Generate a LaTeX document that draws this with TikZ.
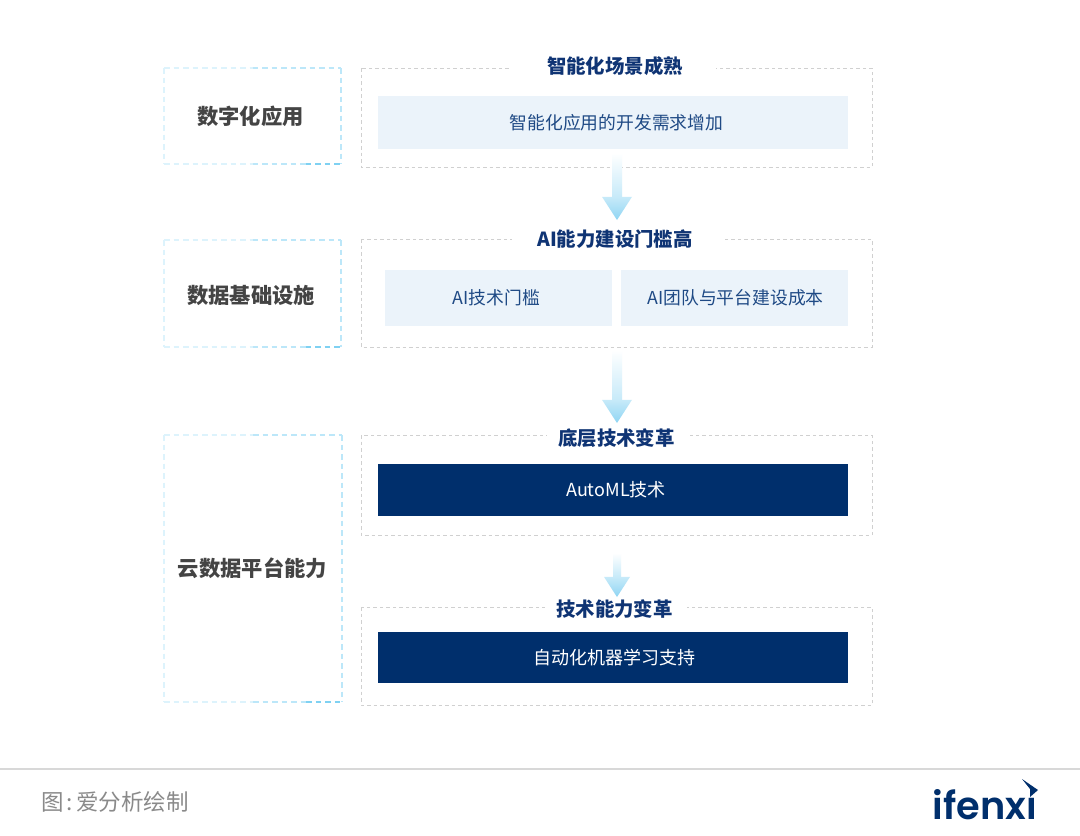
\documentclass[tikz,border=0pt]{standalone}
\usepackage{fontspec}
\setmainfont{Noto Sans CJK SC}
\newfontfamily\logofont{Poppins SemiBold}
\usetikzlibrary{calc}
\definecolor{navy}{HTML}{002F6C}
\definecolor{titlec}{HTML}{0F3474}
\definecolor{bodyc}{HTML}{1F4A85}
\definecolor{pale}{HTML}{EBF3FA}
\definecolor{greyline}{HTML}{D8D8D8}
\definecolor{dashgrey}{HTML}{D0D0D0}
\definecolor{labelc}{HTML}{444444}
\definecolor{footc}{HTML}{8A8A8A}
\definecolor{cyanA}{HTML}{DDF3FC}
\definecolor{cyanB}{HTML}{BCE7F9}
\definecolor{cyanC}{HTML}{7FD1F2}
\definecolor{arrowA}{HTML}{C7EAF9}
\definecolor{arrowB}{HTML}{8FD5F3}
\tikzset{
  x=1pt,y=-1pt,
  grpbox/.style={draw=dashgrey,line width=1pt,dash pattern=on 3.5pt off 3pt},
  cyandash/.style={line width=1.05pt,dash pattern=on 5.5pt off 4pt},
  inner pale/.style={fill=pale,draw=none,inner sep=0pt,text=bodyc,font=\fontsize{17.8}{20}\selectfont},
  inner navy/.style={fill=navy,draw=none,inner sep=0pt,text=white,font=\fontsize{18}{20}\selectfont},
  grptitle/.style={inner sep=0pt,text=titlec,font=\fontsize{19.4}{20}\selectfont\bfseries},
  sidelabel/.style={text=labelc,inner sep=0pt,font=\fontsize{21.3}{22}\selectfont\bfseries},
}
\newcommand{\sidebox}[5]{% name x1 y1 x2 y2
  \coordinate (#1-nw) at (#2,#3);
  \coordinate (#1-se) at (#4,#5);
  \draw[cyandash,draw=cyanA] (#1-nw) -- (#1-nw |- #1-se);
  \draw[cyandash,draw=cyanA] (#1-nw) -- ($(#1-nw)!0.5!(#1-se |- #1-nw)$);
  \draw[cyandash,draw=cyanB] ($(#1-nw)!0.5!(#1-se |- #1-nw)$) -- (#1-se |- #1-nw);
  \draw[cyandash,draw=cyanB] (#1-se |- #1-nw) -- (#1-se);
  \draw[cyandash,draw=cyanA] (#1-nw |- #1-se) -- ($(#1-nw |- #1-se)!0.5!(#1-se)$);
  \draw[cyandash,draw=cyanB] ($(#1-nw |- #1-se)!0.5!(#1-se)$) -- ($(#1-nw |- #1-se)!0.8!(#1-se)$);
  \draw[cyandash,draw=cyanC] ($(#1-nw |- #1-se)!0.8!(#1-se)$) -- (#1-se);
}
\newcommand{\gradarrow}[4]{% start end halfshaft halfhead; head length = 1.55*halfhead
  \shade[top color=white,bottom color=arrowA]
    ($(#1)+(-#3,0)$) rectangle ($(#2)+(#3,-1.55*#4)$);
  \shade[top color=arrowA,bottom color=arrowB]
    ($(#2)+(-#4,-1.55*#4)$) -- ($(#2)+(#4,-1.55*#4)$) -- (#2) -- cycle;
}
\begin{document}
\begin{tikzpicture}
\useasboundingbox (0,0) rectangle (1080,836);
\fill[white] (0,0) rectangle (1080,836);

% side boxes
\sidebox{s1}{164}{68}{341}{164}
\sidebox{s2}{164}{240}{341}{347}
\sidebox{s3}{164}{435}{342}{702}
\node[sidelabel] (l1) at (250.5,116) {数字化应用};
\node[sidelabel] (l2) at (251,295) {数据基础设施};
\node[sidelabel] (l3) at (252.5,568) {云数据平台能力};

% group boxes
\draw[grpbox] (361,68) rectangle (872,167);
\draw[grpbox] (361,239) rectangle (872,347);
\draw[grpbox] (361,435) rectangle (872,535);
\draw[grpbox] (361,607) rectangle (872,705);

% arrows
\coordinate (a1s) at (617,153); \coordinate (a1e) at (617,220);
\coordinate (a2s) at (617,350); \coordinate (a2e) at (617,423);
\coordinate (a3s) at (617,553); \coordinate (a3e) at (617,597);
\gradarrow{a1s}{a1e}{5}{15}
\gradarrow{a2s}{a2e}{5}{15}
\gradarrow{a3s}{a3e}{4}{13}

% gaps in the dashed frames behind the titles
\fill[white] (512,60) rectangle (716,76);
\fill[white] (512,231) rectangle (722,247);
\fill[white] (547,427) rectangle (690,443);
\fill[white] (545,599) rectangle (687,615);

% group titles
\node[grptitle] (t1) at (615,66) {智能化场景成熟};
\node[grptitle] (t2) at (615,239) {AI能力建设门槛高};
\node[grptitle] (t3) at (616.5,438.5) {底层技术变革};
\node[grptitle] (t4) at (614.5,609) {技术能力变革};

% inner boxes
\node[inner pale,minimum width=470pt,minimum height=53pt] (b1) at (613,122.5) {\hspace{7pt}智能化应用的开发需求增加};
\node[inner pale,minimum width=227pt,minimum height=56pt] (b2) at (498.5,298) {\hspace{-4pt}AI技术门槛};
\node[inner pale,minimum width=227pt,minimum height=56pt] (b3) at (734.5,298) {\hspace{2pt}AI团队与平台建设成本};
\node[inner navy,minimum width=470pt,minimum height=52pt] (b4) at (613,490) {\hspace{6pt}AutoML技术};
\node[inner navy,minimum width=470pt,minimum height=51pt] (b5) at (613,657.5) {\hspace{2pt}自动化机器学习支持};

% footer
\draw[greyline,line width=2pt] (0,769) -- (1080,769);
\node[anchor=west,inner sep=0pt,text=footc,font=\fontsize{22.5}{24}\selectfont] (foot) at (41,802) {图\hspace{3pt}:\hspace{3.5pt}爱分析绘制};
\node[anchor=base east,inner sep=0pt,text=navy,font=\fontsize{38.3}{42}\selectfont\logofont] (logo) at (1037,819) {ifenxi};
\fill[white] (1020,776) rectangle (1040,796);
\fill[navy] (1022,779) -- (1038,790) -- (1030,797) -- (1030,789) -- cycle;
\end{tikzpicture}
\end{document}
